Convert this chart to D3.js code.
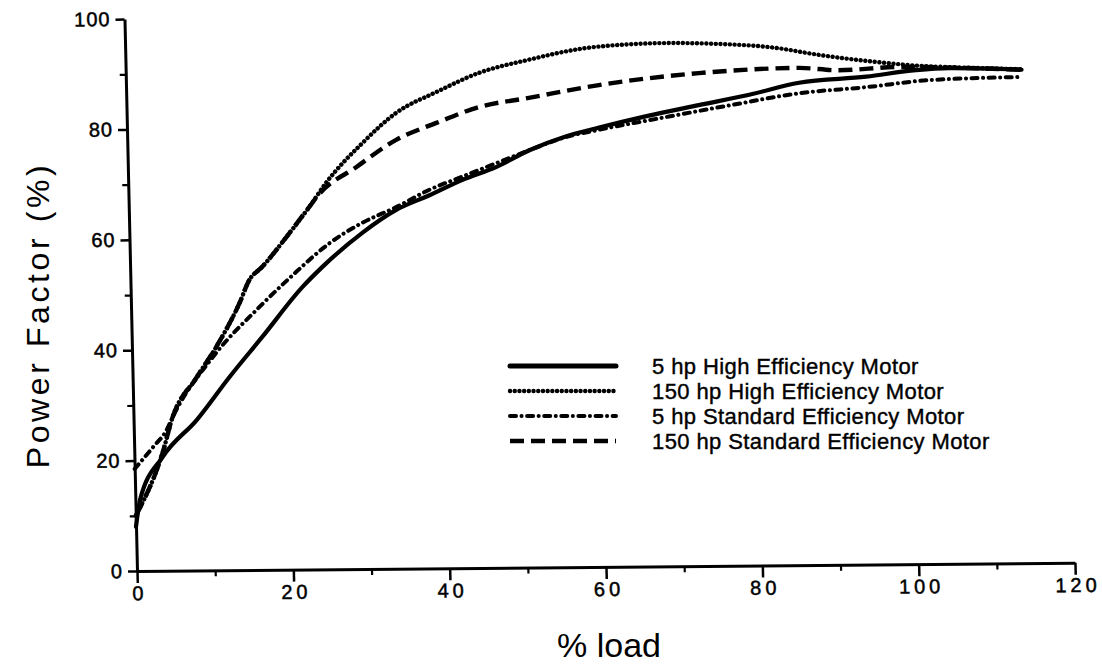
<!DOCTYPE html>
<html>
<head>
<meta charset="utf-8">
<script src="https://cdn.jsdelivr.net/npm/d3@7"></script>
<style>
  html, body { margin: 0; padding: 0; background: #fff; }
  svg { display: block; font-family: "Liberation Sans", Arial, Helvetica, sans-serif; }
</style>
</head>
<body>
<script>
// ---- data ----
const xTicks = [0, 20, 40, 60, 80, 100, 120];
const xMinorTicks = [10, 30, 50, 70, 90, 110];
const yTicks = [0, 20, 40, 60, 80, 100];
const yMinorTicks = [10, 30, 50, 70, 90];

const seriesNames = [
  "5 hp High Efficiency Motor",
  "150 hp High Efficiency Motor",
  "5 hp Standard Efficiency Motor",
  "150 hp Standard Efficiency Motor"
];

// [% load, power factor %]
const hp5High = [[0,8],[0.6,12.9],[3.6,20.6],[8.1,27.3],[12.4,35.0],[16.7,42.2],[22.0,51.2],[24.6,54.8],[29.8,60.9],[34.2,65.0],[38.5,67.6],[42.7,70.3],[47.1,72.6],[51.4,75.6],[56,78.0],[60.4,79.6],[66.5,81.6],[73.2,83.5],[79.7,85.3],[86.1,87.4],[94.7,88.4],[101.1,89.5],[105.3,89.8],[114.6,89.4]];
const hp150High = [[0,10],[3.6,21.3],[5.0,27.8],[8.2,35.0],[10.8,40.5],[13.9,48.4],[15.2,52.5],[16.9,54.9],[20.1,60.3],[23.1,65.7],[25.3,70.0],[30.1,77.2],[34.5,82.6],[39.7,86.3],[45.2,89.7],[51.6,92.0],[58.3,93.9],[64,94.6],[69.3,94.8],[75.2,94.6],[83,93.8],[88.8,92.4],[95.7,91.1],[101.3,90.3],[107,89.9],[114.6,89.5]];
const hp5Std = [[0,18.5],[2.4,22.4],[4.2,25.5],[5.0,27.8],[10.3,38.6],[16.4,47.6],[20.5,53.0],[25.6,59.1],[29.8,62.7],[34.2,65.5],[38.5,68.6],[42.7,70.9],[47.1,73.3],[51.4,75.6],[56,77.9],[60.4,79.2],[69.0,81.4],[77.5,83.5],[86.1,85.5],[94.7,86.5],[103.1,87.7],[114.6,88.1]];
const hp150Std = [[0,10],[3.6,21.3],[5.0,27.8],[8.2,35.0],[10.8,40.5],[13.9,48.4],[15.2,52.5],[16.9,54.9],[20.1,60.3],[23.1,65.7],[24.4,68.0],[29.2,72.8],[34.4,77.7],[39.6,80.7],[45.1,83.5],[51.5,85.1],[60.5,87.3],[73.3,89.3],[86.1,90.1],[91.2,89.6],[98.9,90.1],[106,89.9],[114.6,89.4]];

const seriesData = [hp5High, hp150High, hp5Std, hp150Std];

// ---- styles ----
const lineStyles = [
  { width: 4.2, dash: null,            cap: "round" },
  { width: 4.4, dash: "0.1,4.6",       cap: "round" },
  { width: 4,   dash: "6,5.5,0.1,5.5", cap: "round" },
  { width: 4.4, dash: "14,7",          cap: "butt"  }
];

const W = 1102, H = 664;
const svg = d3.select("body").append("svg").attr("width", W).attr("height", H);
svg.append("rect").attr("width", W).attr("height", H).attr("fill", "#fff");

const x = d3.scaleLinear().domain([0, 120]).range([137, 1075]);
const y = d3.scaleLinear().domain([0, 100]).range([571, 19]);

// scanned original is slightly rotated / sheared
const plot = svg.append("g")
  .attr("transform", "translate(137,571) rotate(-0.5) skewX(0.8) translate(-137,-571)");

// minor ticks
plot.append("g").attr("transform", `translate(0,${y(0)})`)
  .call(d3.axisBottom(x).tickValues(xMinorTicks).tickSize(6).tickSizeOuter(0).tickFormat(""))
  .call(g => g.select(".domain").remove())
  .call(g => g.selectAll("line").attr("stroke", "#000").attr("stroke-width", 2.2));
plot.append("g").attr("transform", `translate(${x(0)},0)`)
  .call(d3.axisLeft(y).tickValues(yMinorTicks).tickSize(6).tickSizeOuter(0).tickFormat(""))
  .call(g => g.select(".domain").remove())
  .call(g => g.selectAll("line").attr("stroke", "#000").attr("stroke-width", 2.2));

// major axes
const xAxis = plot.append("g").attr("transform", `translate(0,${y(0)})`)
  .call(d3.axisBottom(x).tickValues(xTicks).tickSize(12).tickSizeOuter(0).tickPadding(3).tickFormat(d3.format("d")));
const yAxis = plot.append("g").attr("transform", `translate(${x(0)},0)`)
  .call(d3.axisLeft(y).tickValues(yTicks).tickSize(9).tickSizeOuter(0).tickPadding(5).tickFormat(d3.format("d")));

[xAxis, yAxis].forEach(g => {
  g.select(".domain").attr("stroke", "#000").attr("stroke-width", 3);
  g.selectAll(".tick line").attr("stroke", "#000").attr("stroke-width", 2.5);
  g.selectAll(".tick text").attr("fill", "#000").attr("font-size", 20)
    .attr("stroke", "#000").attr("stroke-width", 0.5)
    .attr("font-family", "'Liberation Sans', Arial, sans-serif");
});
xAxis.selectAll(".tick text").attr("letter-spacing", "4px").attr("dx", "2px");
yAxis.selectAll(".tick text").attr("letter-spacing", "1px");

// lines
const line = d3.line().x(d => x(d[0])).y(d => y(d[1])).curve(d3.curveMonotoneX);
seriesData.forEach((data, i) => {
  const s = lineStyles[i];
  plot.append("path")
    .datum(data)
    .attr("d", line)
    .attr("fill", "none")
    .attr("stroke", "#000")
    .attr("stroke-width", s.width)
    .attr("stroke-linecap", s.cap)
    .attr("stroke-linejoin", "round")
    .attr("stroke-dasharray", s.dash);
});

// legend
const legendRowY = [366, 391, 416, 441];
const legend = svg.append("g");
seriesNames.forEach((name, i) => {
  const s = lineStyles[i];
  legend.append("line")
    .attr("x1", 510).attr("x2", 616)
    .attr("y1", legendRowY[i]).attr("y2", legendRowY[i])
    .attr("stroke", "#000")
    .attr("stroke-width", i === 0 ? 5 : s.width)
    .attr("stroke-linecap", s.cap)
    .attr("stroke-dasharray", s.dash);
  legend.append("text")
    .attr("x", 652).attr("y", legendRowY[i]).attr("dy", "0.36em")
    .attr("font-size", 22)
    .attr("letter-spacing", "0.4px")
    .attr("fill", "#000")
    .attr("stroke", "#000").attr("stroke-width", 0.4)
    .text(name);
});

// axis titles
svg.append("text")
  .attr("x", 609).attr("y", 657)
  .attr("text-anchor", "middle")
  .attr("font-size", 34)
  .attr("fill", "#000")
  .text("% load");

svg.append("text")
  .attr("transform", "translate(49,315) rotate(-90)")
  .attr("text-anchor", "middle")
  .attr("font-size", 32)
  .attr("letter-spacing", "3.6px")
  .attr("fill", "#000")
  .text("Power Factor (%)");
</script>
</body>
</html>
